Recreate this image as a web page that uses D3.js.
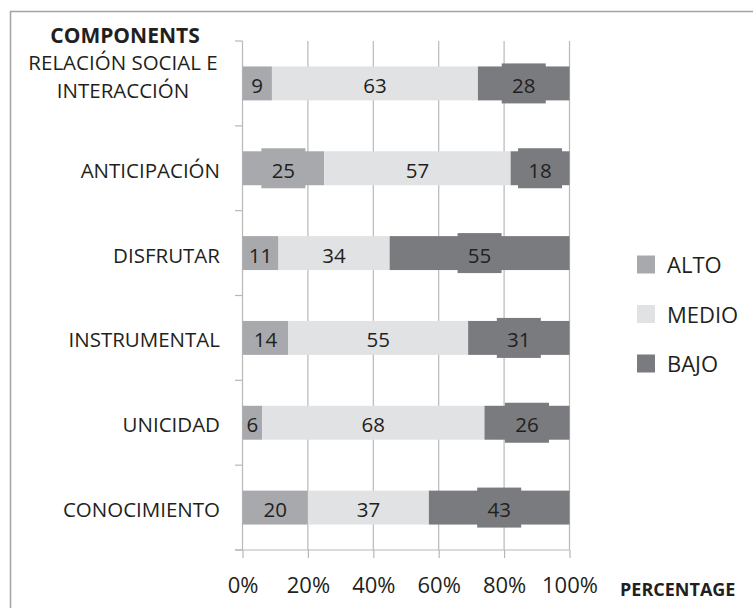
<!DOCTYPE html>
<html>
<head>
<meta charset="utf-8">
<script src="https://cdn.jsdelivr.net/npm/d3@7/dist/d3.min.js"></script>
<style>
  html, body { margin: 0; padding: 0; background: #fff; }
  svg { display: block; }
  text { font-family: "Open Sans", "Noto Sans", sans-serif; fill: #231f20; }
</style>
</head>
<body>
<svg id="chart" width="753" height="608"></svg>
<script>
// Components, top to bottom ("\n" marks a wrapped label)
const categories = [
  "RELACIÓN SOCIAL E\nINTERACCIÓN",
  "ANTICIPACIÓN",
  "DISFRUTAR",
  "INSTRUMENTAL",
  "UNICIDAD",
  "CONOCIMIENTO"
];
const seriesNames = ["ALTO", "MEDIO", "BAJO"];
const alto  = [9, 25, 11, 14, 6, 20];
const medio = [63, 57, 34, 55, 68, 37];
const bajo  = [28, 18, 55, 31, 26, 43];
const xTicks = [0, 20, 40, 60, 80, 100];
const xTickLabels = ["0%", "20%", "40%", "60%", "80%", "100%"];
// value labels drawn on a filled tag: [series, category index]
const taggedLabels = [["ALTO", 1], ["BAJO", 0], ["BAJO", 1], ["BAJO", 2], ["BAJO", 3], ["BAJO", 4], ["BAJO", 5]];

const colors = { ALTO: "#a8a9ac", MEDIO: "#e1e2e4", BAJO: "#7a7b7f" };
const values = { ALTO: alto, MEDIO: medio, BAJO: bajo };

const svg = d3.select("#chart");

// outer frame (open to the right and bottom)
svg.append("path")
  .attr("d", "M10.5,608 L10.5,11.5 L753,11.5")
  .attr("fill", "none").attr("stroke", "#a3a3a3").attr("stroke-width", 1.5);

const x = d3.scaleLinear().domain([0, 100]).range([242.5, 569.5]);
const y = d3.scaleBand().domain(d3.range(categories.length)).range([41, 550]).padding(0);
const barH = y.bandwidth() * 0.4;

// stacked rows
const rows = categories.map((c, i) => {
  let acc = 0;
  return seriesNames.map(s => {
    const v = values[s][i];
    const seg = { series: s, cat: i, v, x0: acc, x1: acc + v };
    acc += v;
    return seg;
  });
});
const segments = rows.flat();

// vertical gridlines
svg.append("g").selectAll("line")
  .data(xTicks.filter(t => t > 0))
  .join("line")
  .attr("x1", d => x(d)).attr("x2", d => x(d))
  .attr("y1", 41).attr("y2", 550)
  .attr("stroke", "#b8b8b8").attr("stroke-width", 1.2);

// x axis
const xAxis = d3.axisBottom(x).tickValues(xTicks)
  .tickFormat((d, i) => xTickLabels[i]).tickSize(8).tickSizeOuter(0);
const gx = svg.append("g").attr("transform", "translate(0,550)").call(xAxis);
gx.select(".domain").remove();
gx.selectAll(".tick line").attr("stroke", "#b8b8b8").attr("stroke-width", 1.2);
gx.selectAll(".tick text").attr("font-size", 22).attr("y", 0).attr("dy", 0)
  .attr("transform", "translate(0,43)").style("fill", "#231f20");
svg.append("line").attr("x1", 235).attr("x2", 569.5).attr("y1", 550).attr("y2", 550)
  .attr("stroke", "#b8b8b8").attr("stroke-width", 1.2);

// y axis line and band ticks
svg.append("line").attr("x1", 242.5).attr("x2", 242.5).attr("y1", 41).attr("y2", 550)
  .attr("stroke", "#b8b8b8").attr("stroke-width", 1.2);
svg.append("g").selectAll("line")
  .data(d3.range(categories.length + 1))
  .join("line")
  .attr("x1", 235).attr("x2", 242.5)
  .attr("y1", d => 41 + d * y.step()).attr("y2", d => 41 + d * y.step())
  .attr("stroke", "#b8b8b8").attr("stroke-width", 1.2);

// bars
svg.append("g").selectAll("rect")
  .data(segments)
  .join("rect")
  .attr("x", d => x(d.x0))
  .attr("width", d => x(d.x1) - x(d.x0))
  .attr("y", d => y(d.cat) + y.bandwidth() / 2 - barH / 2)
  .attr("height", barH)
  .attr("fill", d => colors[d.series]);

// value label tags
const isTagged = d => taggedLabels.some(t => t[0] === d.series && t[1] === d.cat);
svg.append("g").selectAll("rect")
  .data(segments.filter(isTagged))
  .join("rect")
  .attr("x", d => x((d.x0 + d.x1) / 2) - 22)
  .attr("width", 44)
  .attr("y", d => y(d.cat) + y.bandwidth() / 2 - 20)
  .attr("height", 40)
  .attr("fill", d => colors[d.series]);

// value labels
svg.append("g").selectAll("text")
  .data(segments)
  .join("text")
  .attr("x", d => x((d.x0 + d.x1) / 2))
  .attr("y", d => y(d.cat) + y.bandwidth() / 2 + 9.5)
  .attr("text-anchor", "middle")
  .attr("font-size", 20.5)
  .text(d => d.v);

// category labels
const catG = svg.append("g");
categories.forEach((c, i) => {
  const lines = c.split("\n");
  const cy = y(i) + y.bandwidth() / 2;
  if (lines.length === 1) {
    catG.append("text").attr("x", 220).attr("y", cy + 9.5)
      .attr("text-anchor", "end").attr("font-size", 20.5).text(c);
  } else {
    lines.forEach((ln, k) => {
      catG.append("text").attr("x", 123)
        .attr("y", cy + 1 + (k - (lines.length - 1) / 2) * 28)
        .attr("text-anchor", "middle").attr("font-size", 20.5).text(ln);
    });
  }
});

// axis titles
svg.append("text").attr("x", 125).attr("y", 42.5).attr("text-anchor", "middle")
  .attr("font-size", 21).attr("font-weight", "bold").text("COMPONENTS");
svg.append("text").attr("x", 620).attr("y", 596).attr("text-anchor", "start")
  .attr("font-size", 18).attr("font-weight", "bold").text("PERCENTAGE");

// legend
const legend = svg.append("g").selectAll("g")
  .data(seriesNames)
  .join("g")
  .attr("transform", (d, i) => `translate(637,${264.5 + i * 49.5})`);
legend.append("rect").attr("x", 0).attr("y", -9).attr("width", 18).attr("height", 18)
  .attr("fill", d => colors[d]);
legend.append("text").attr("x", 30).attr("y", 8.5).attr("font-size", 22).text(d => d);
</script>
</body>
</html>
